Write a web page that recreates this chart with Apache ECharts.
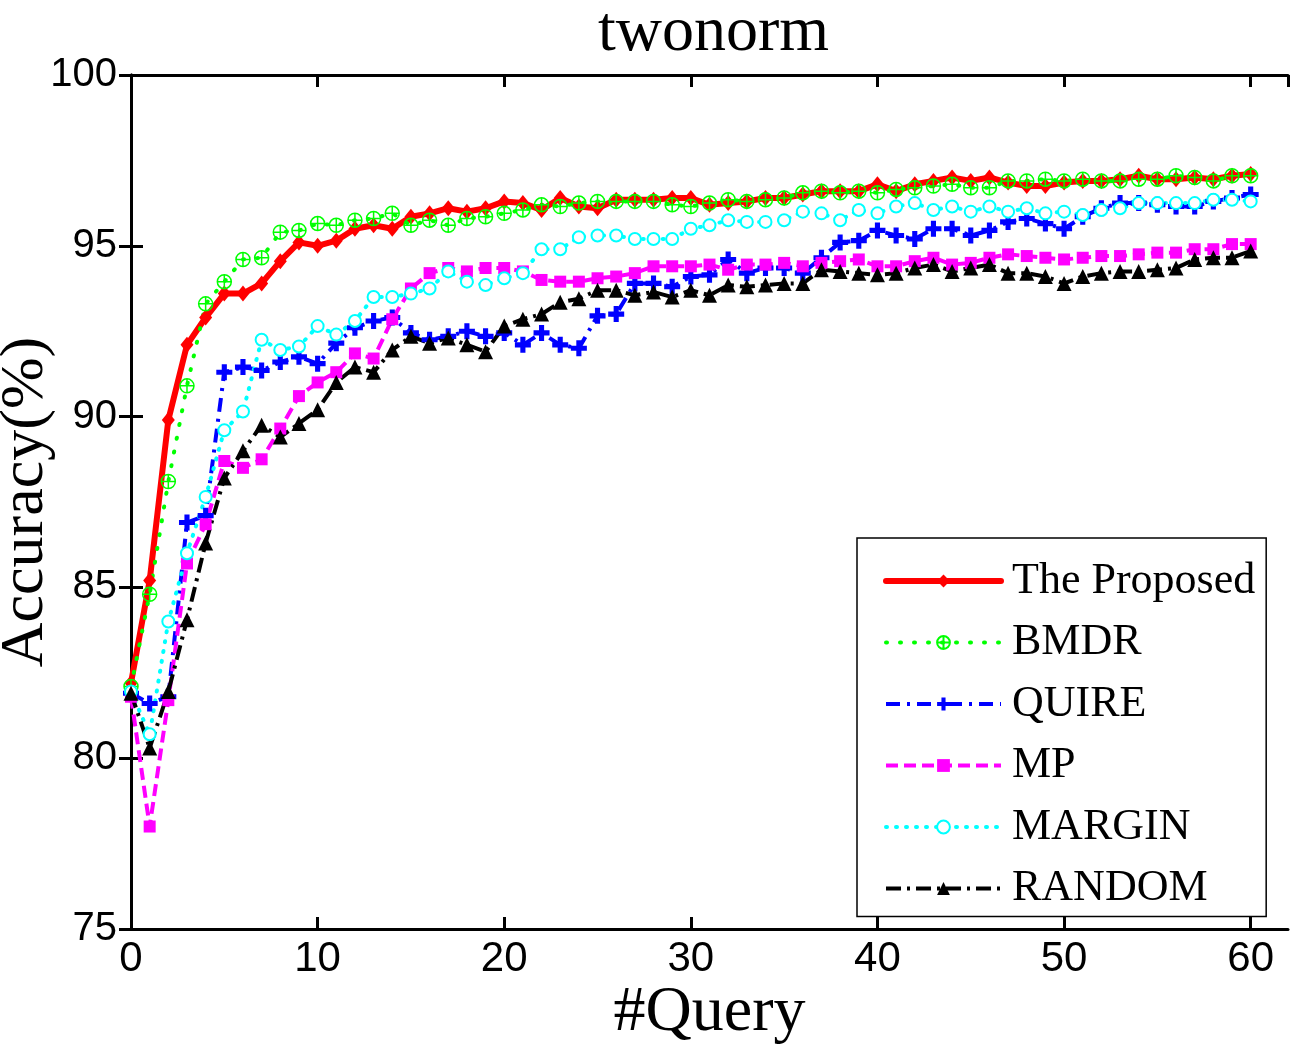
<!DOCTYPE html>
<html>
<head>
<meta charset="utf-8">
<script src="https://cdn.jsdelivr.net/npm/echarts@6/dist/echarts.min.js"></script>
<style>
  html, body { margin: 0; padding: 0; background: #fff; }
  #chart { width: 1307px; height: 1056px; }
</style>
</head>
<body>
<div id="chart"></div>
<script>
// #Query values on the x axis
const queries = [0, 1, 2, 3, 4, 5, 6, 7, 8, 9, 10, 11, 12, 13, 14, 15, 16, 17, 18, 19,
  20, 21, 22, 23, 24, 25, 26, 27, 28, 29, 30, 31, 32, 33, 34, 35, 36, 37, 38, 39,
  40, 41, 42, 43, 44, 45, 46, 47, 48, 49, 50, 51, 52, 53, 54, 55, 56, 57, 58, 59, 60];

const seriesNames = ["The Proposed", "BMDR", "QUIRE", "MP", "MARGIN", "RANDOM"];

// accuracy (%)
const proposed = [82.2, 85.2, 89.9, 92.1, 92.9, 93.6, 93.6, 93.9, 94.55, 95.1,
  95.0, 95.15, 95.5, 95.6, 95.5, 95.85, 95.95, 96.1, 96.0, 96.1,
  96.3, 96.25, 96.05, 96.4, 96.15, 96.1, 96.35, 96.35, 96.35, 96.4,
  96.4, 96.2, 96.25, 96.3, 96.4, 96.4, 96.5, 96.6, 96.6, 96.6,
  96.8, 96.6, 96.8, 96.9, 97.0, 96.9, 97.0, 96.85, 96.75, 96.75,
  96.85, 96.9, 96.9, 96.95, 97.05, 96.95, 96.95, 97.0, 96.95, 97.05, 97.1];

const bmdr = [82.1, 84.8, 88.1, 90.9, 93.3, 93.95, 94.6, 94.65, 95.4, 95.45,
  95.65, 95.6, 95.75, 95.8, 95.95, 95.6, 95.75, 95.6, 95.8, 95.85,
  95.95, 96.05, 96.2, 96.15, 96.25, 96.3, 96.3, 96.3, 96.3, 96.2,
  96.15, 96.25, 96.35, 96.3, 96.35, 96.4, 96.55, 96.6, 96.55, 96.6,
  96.55, 96.65, 96.7, 96.75, 96.8, 96.7, 96.7, 96.9, 96.9, 96.95,
  96.9, 96.95, 96.9, 96.9, 96.95, 96.95, 97.05, 97.0, 96.9, 97.05, 97.05];

const quire = [81.9, 81.6, 81.8, 86.9, 87.1, 91.3, 91.45, 91.35, 91.6, 91.75,
  91.55, 92.15, 92.6, 92.8, 92.9, 92.45, 92.25, 92.35, 92.5, 92.35,
  92.45, 92.1, 92.45, 92.1, 92.0, 92.95, 93.0, 93.9, 93.9, 93.8,
  94.1, 94.15, 94.6, 94.2, 94.35, 94.35, 94.2, 94.65, 95.1, 95.15,
  95.45, 95.3, 95.2, 95.5, 95.5, 95.3, 95.45, 95.7, 95.8, 95.65,
  95.5, 95.85, 96.1, 96.25, 96.25, 96.2, 96.15, 96.15, 96.3, 96.4, 96.5];

const mp = [81.8, 78.0, 81.7, 85.7, 86.85, 88.7, 88.5, 88.75, 89.65, 90.6,
  91.0, 91.3, 91.85, 91.7, 92.85, 93.75, 94.2, 94.35, 94.25, 94.35,
  94.35, 94.25, 94.0, 93.95, 93.95, 94.05, 94.1, 94.2, 94.4, 94.4,
  94.4, 94.45, 94.3, 94.45, 94.45, 94.5, 94.4, 94.5, 94.55, 94.6,
  94.4, 94.4, 94.55, 94.65, 94.45, 94.5, 94.65, 94.75, 94.7, 94.65,
  94.6, 94.65, 94.7, 94.7, 94.75, 94.8, 94.8, 94.9, 94.9, 95.05, 95.05];

const margin = [81.95, 80.7, 84.0, 86.0, 87.65, 89.6, 90.15, 92.25, 91.95, 92.05,
  92.65, 92.4, 92.8, 93.5, 93.5, 93.6, 93.75, 94.25, 93.95, 93.85,
  94.05, 94.2, 94.9, 94.9, 95.25, 95.3, 95.3, 95.2, 95.2, 95.2,
  95.5, 95.6, 95.75, 95.7, 95.7, 95.75, 96.0, 95.95, 95.75, 96.05,
  95.95, 96.15, 96.25, 96.05, 96.15, 96.0, 96.15, 96.0, 96.1, 95.95,
  96.0, 95.9, 96.05, 96.1, 96.25, 96.25, 96.25, 96.25, 96.35, 96.35, 96.3];

const random = [81.9, 80.3, 81.95, 84.05, 86.3, 88.2, 89.0, 89.75, 89.4, 89.8,
  90.2, 91.0, 91.45, 91.3, 91.95, 92.35, 92.15, 92.3, 92.1, 91.9,
  92.65, 92.85, 93.0, 93.35, 93.45, 93.7, 93.7, 93.55, 93.65, 93.5,
  93.7, 93.55, 93.85, 93.8, 93.85, 93.9, 93.9, 94.3, 94.25, 94.2,
  94.15, 94.2, 94.35, 94.45, 94.25, 94.35, 94.45, 94.2, 94.2, 94.1,
  93.9, 94.1, 94.2, 94.25, 94.25, 94.3, 94.35, 94.6, 94.65, 94.65, 94.85];

const SERIF = '"Liberation Serif", "Times New Roman", serif';
const SANS = '"Liberation Sans", Arial, Helvetica, sans-serif';

const circlePlus = "path://M10,0 A10,10 0 1 1 9.99,0 Z M10,0 L10,20 M0,10 L20,10";
const plusMark = "path://M3.4,0 L6.6,0 L6.6,3.4 L10,3.4 L10,6.6 L6.6,6.6 L6.6,10 L3.4,10 L3.4,6.6 L0,6.6 L0,3.4 L3.4,3.4 Z";

function pairs(vals) {
  return queries.map((q, i) => [q, vals[i]]);
}

function line(name, vals, color, width, dash, cap, symbol, size, itemStyle) {
  return {
    name: name,
    type: "line",
    data: pairs(vals),
    symbol: symbol,
    symbolSize: size,
    showAllSymbol: true,
    animation: false,
    color: color,
    lineStyle: { color: color, width: width, type: dash, cap: cap },
    itemStyle: itemStyle || { color: color },
  };
}

const chart = echarts.init(document.getElementById("chart"));

const axisLineStyle = { show: true, lineStyle: { color: "#000", width: 3 } };
const tickStyle = { show: true, inside: true, length: 12, lineStyle: { color: "#000", width: 3 } };

chart.setOption({
  backgroundColor: "#fff",
  animation: false,
  title: {
    text: "twonorm",
    left: 593,
    top: -4,
    textStyle: { fontFamily: SERIF, fontSize: 64, fontWeight: "normal", color: "#000" },
  },
  grid: { left: 131, right: 19, top: 75, bottom: 127, containLabel: false, outerBoundsMode: "none" },
  xAxis: [
    {
      type: "value",
      min: 0,
      max: 62,
      interval: 10,
      name: "#Query",
      nameLocation: "middle",
      nameGap: 52,
      nameMoveOverlap: false,
      nameTextStyle: { fontFamily: SERIF, fontSize: 64, color: "#000" },
      axisLine: axisLineStyle,
      axisTick: tickStyle,
      axisLabel: { showMaxLabel: false, margin: 9, fontFamily: SANS, fontSize: 42, color: "#000" },
      splitLine: { show: false },
    },
    {
      type: "value",
      position: "top",
      min: 0,
      max: 62,
      interval: 10,
      axisLine: axisLineStyle,
      axisTick: tickStyle,
      axisLabel: { show: false },
      splitLine: { show: false },
    },
  ],
  yAxis: [
    {
      type: "value",
      min: 75,
      max: 100,
      interval: 5,
      name: "Accuracy(%)",
      nameLocation: "middle",
      nameGap: 74,
      nameMoveOverlap: false,
      nameTextStyle: { fontFamily: SERIF, fontSize: 62, color: "#000" },
      axisLine: axisLineStyle,
      axisTick: tickStyle,
      axisLabel: { margin: 14, fontFamily: SANS, fontSize: 40, color: "#000" },
      splitLine: { show: false },
    },
    {
      type: "value",
      position: "right",
      min: 75,
      max: 100,
      interval: 5,
      axisLine: axisLineStyle,
      axisTick: tickStyle,
      axisLabel: { show: false },
      splitLine: { show: false },
    },
  ],
  legend: {
    orient: "vertical",
    left: 857,
    top: 538,
    data: seriesNames,
    itemWidth: 115,
    itemHeight: 16,
    itemGap: 17.5,
    padding: [21, 11, 6, 26],
    backgroundColor: "#fff",
    borderColor: "#000",
    borderWidth: 1.5,
    borderRadius: 0,
    lineStyle: { width: "inherit" },
    textStyle: { fontFamily: SERIF, fontSize: 44, lineHeight: 44, color: "#000", padding: [0, 0, 0, 6] },
  },
  series: [
    line(seriesNames[0], proposed, "#ff0000", 6, "solid", "round", "diamond", [13, 16]),
    line(seriesNames[1], bmdr, "#00ff00", 4, [1, 13], "round", circlePlus, 14,
      { color: "rgba(0,0,0,0)", borderColor: "#00ff00", borderWidth: 1.5 }),
    line(seriesNames[2], quire, "#0000ff", 4, [14, 7, 3, 7], "butt", plusMark, 16),
    line(seriesNames[3], mp, "#ff00ff", 4, [12, 6], "butt", "rect", 12),
    line(seriesNames[4], margin, "#00ffff", 4, [1, 9], "round", "emptyCircle", 12,
      { color: "#00ffff", borderColor: "#00ffff", borderWidth: 3 }),
    line(seriesNames[5], random, "#000000", 4, [15, 6, 3, 6], "butt", "triangle", 15),
  ],
});
</script>
</body>
</html>
